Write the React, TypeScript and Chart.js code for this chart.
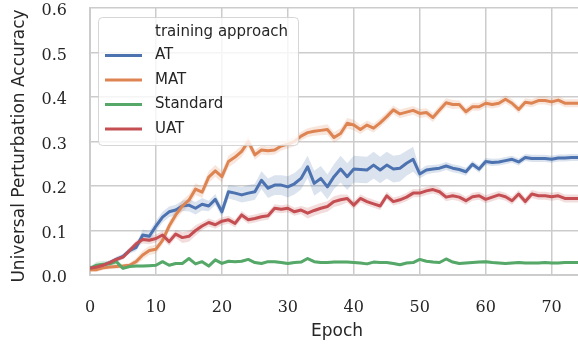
import { useEffect, useRef } from "react";
import { Chart, registerables } from "chart.js";
Chart.register(...registerables);

const epochs = [0,1,2,3,4,5,6,7,8,9,10,11,12,13,14,15,16,17,18,19,20,21,22,23,24,25,26,27,28,29,30,31,32,33,34,35,36,37,38,39,40,41,42,43,44,45,46,47,48,49,50,51,52,53,54,55,56,57,58,59,60,61,62,63,64,65,66,67,68,69,70,71,72,73,74];

const atValues = [0.015,0.018,0.022,0.028,0.035,0.042,0.055,0.062,0.090,0.087,0.110,0.130,0.142,0.146,0.155,0.157,0.150,0.159,0.155,0.170,0.142,0.187,0.184,0.180,0.184,0.187,0.213,0.195,0.202,0.202,0.198,0.205,0.217,0.243,0.206,0.217,0.198,0.221,0.238,0.221,0.238,0.237,0.236,0.247,0.236,0.247,0.238,0.240,0.251,0.260,0.227,0.236,0.238,0.240,0.245,0.240,0.237,0.232,0.249,0.238,0.255,0.253,0.254,0.257,0.260,0.254,0.264,0.262,0.262,0.262,0.260,0.263,0.263,0.264,0.264];
const atSpread = [0.005,0.005,0.005,0.005,0.006,0.006,0.007,0.008,0.012,0.012,0.012,0.012,0.012,0.012,0.012,0.014,0.014,0.014,0.012,0.012,0.012,0.015,0.016,0.017,0.018,0.018,0.020,0.022,0.022,0.022,0.024,0.024,0.025,0.025,0.028,0.028,0.028,0.028,0.030,0.030,0.030,0.030,0.030,0.030,0.030,0.030,0.030,0.030,0.028,0.028,0.010,0.010,0.009,0.009,0.009,0.009,0.009,0.009,0.008,0.008,0.008,0.008,0.008,0.008,0.008,0.008,0.008,0.008,0.008,0.008,0.008,0.008,0.008,0.008,0.008];

const matValues = [0.012,0.012,0.016,0.018,0.019,0.020,0.022,0.030,0.045,0.055,0.058,0.078,0.110,0.135,0.155,0.168,0.193,0.186,0.220,0.234,0.221,0.255,0.265,0.278,0.300,0.270,0.281,0.279,0.281,0.290,0.294,0.300,0.312,0.320,0.323,0.325,0.327,0.309,0.318,0.341,0.337,0.327,0.337,0.330,0.342,0.356,0.371,0.362,0.366,0.370,0.363,0.365,0.354,0.371,0.387,0.383,0.383,0.367,0.378,0.378,0.386,0.383,0.386,0.395,0.386,0.372,0.388,0.386,0.392,0.392,0.389,0.393,0.386,0.386,0.386];
const matSpread = [0.005,0.005,0.005,0.005,0.005,0.005,0.005,0.008,0.010,0.010,0.010,0.010,0.011,0.012,0.013,0.013,0.013,0.013,0.013,0.013,0.013,0.013,0.013,0.013,0.013,0.011,0.010,0.010,0.010,0.010,0.010,0.010,0.010,0.010,0.010,0.011,0.012,0.012,0.012,0.012,0.012,0.010,0.010,0.010,0.010,0.010,0.010,0.010,0.010,0.010,0.010,0.010,0.010,0.010,0.010,0.010,0.009,0.009,0.009,0.009,0.009,0.009,0.009,0.009,0.009,0.009,0.009,0.009,0.009,0.009,0.009,0.009,0.009,0.009,0.009];

const stdValues = [0.015,0.022,0.024,0.025,0.030,0.015,0.019,0.020,0.020,0.021,0.022,0.030,0.022,0.026,0.026,0.037,0.025,0.030,0.020,0.034,0.026,0.031,0.030,0.031,0.035,0.028,0.026,0.030,0.030,0.028,0.026,0.028,0.029,0.037,0.030,0.028,0.028,0.029,0.029,0.029,0.028,0.027,0.025,0.029,0.028,0.028,0.026,0.023,0.027,0.028,0.035,0.031,0.029,0.028,0.036,0.029,0.026,0.027,0.028,0.029,0.030,0.028,0.027,0.026,0.027,0.028,0.027,0.027,0.027,0.028,0.027,0.027,0.028,0.028,0.028];
const stdSpread = [0.004,0.008,0.008,0.007,0.005,0.003,0.003,0.003,0.003,0.003,0.003,0.003,0.003,0.003,0.003,0.003,0.003,0.003,0.003,0.003,0.003,0.003,0.003,0.003,0.003,0.003,0.003,0.003,0.003,0.003,0.003,0.003,0.003,0.003,0.003,0.003,0.003,0.003,0.003,0.003,0.003,0.003,0.003,0.003,0.003,0.003,0.003,0.003,0.003,0.003,0.003,0.003,0.003,0.003,0.003,0.003,0.003,0.003,0.003,0.003,0.003,0.003,0.003,0.003,0.003,0.003,0.003,0.003,0.003,0.003,0.003,0.003,0.003,0.003,0.003];

const uatValues = [0.015,0.018,0.022,0.028,0.035,0.040,0.055,0.070,0.080,0.078,0.082,0.090,0.075,0.092,0.084,0.087,0.100,0.110,0.118,0.113,0.121,0.124,0.116,0.135,0.124,0.127,0.131,0.133,0.150,0.148,0.150,0.142,0.146,0.139,0.145,0.150,0.154,0.165,0.169,0.172,0.157,0.172,0.165,0.160,0.155,0.178,0.165,0.169,0.175,0.184,0.184,0.189,0.192,0.187,0.175,0.178,0.175,0.167,0.176,0.178,0.170,0.175,0.180,0.176,0.167,0.182,0.165,0.182,0.178,0.178,0.176,0.178,0.172,0.172,0.172];
const uatSpread = [0.005,0.005,0.005,0.005,0.005,0.005,0.006,0.007,0.009,0.009,0.009,0.009,0.009,0.009,0.012,0.012,0.012,0.009,0.009,0.009,0.009,0.009,0.009,0.009,0.009,0.009,0.009,0.009,0.009,0.009,0.009,0.009,0.009,0.012,0.012,0.012,0.012,0.012,0.012,0.009,0.009,0.009,0.009,0.009,0.009,0.009,0.009,0.009,0.009,0.009,0.009,0.009,0.009,0.009,0.009,0.009,0.009,0.009,0.009,0.009,0.009,0.009,0.009,0.009,0.009,0.009,0.009,0.009,0.009,0.009,0.009,0.009,0.009,0.009,0.009];

const seriesNames = ["AT", "MAT", "Standard", "UAT"];
const seriesColors = ["#4c72b0", "#dd8452", "#55a868", "#c44e52"];
const seriesBands = ["rgba(76,114,176,0.2)", "rgba(221,132,82,0.2)", "rgba(85,168,104,0.2)", "rgba(196,78,82,0.2)"];
const legendTitle = "training approach";
const xTitle = "Epoch";
const yTitle = "Universal Perturbation Accuracy";
const xTicks = [0, 10, 20, 30, 40, 50, 60, 70];
const yTicks = [0, 0.1, 0.2, 0.3, 0.4, 0.5, 0.6];

const TEXT = "#262626";
const GRID = "#cccccc";

const overlayPlugin = {
  id: "seabornOverlay",
  afterDraw(chart: any) {
    const ctx = chart.ctx;
    ctx.save();
    // axis titles
    ctx.fillStyle = TEXT;
    ctx.font = "17px 'DejaVu Sans'";
    ctx.textAlign = "center";
    ctx.textBaseline = "middle";
    ctx.save();
    ctx.translate(20, 146);
    ctx.rotate(-Math.PI / 2);
    ctx.fillText(yTitle, 0, 0);
    ctx.restore();
    ctx.fillText(xTitle, (chart.chartArea.left + chart.chartArea.right) / 2 + 3, 332);

    // legend
    const x = 98.5, y = 17.5, w = 200, h = 128, r = 4;
    ctx.beginPath();
    ctx.moveTo(x + r, y);
    ctx.lineTo(x + w - r, y);
    ctx.arcTo(x + w, y, x + w, y + r, r);
    ctx.lineTo(x + w, y + h - r);
    ctx.arcTo(x + w, y + h, x + w - r, y + h, r);
    ctx.lineTo(x + r, y + h);
    ctx.arcTo(x, y + h, x, y + h - r, r);
    ctx.lineTo(x, y + r);
    ctx.arcTo(x, y, x + r, y, r);
    ctx.closePath();
    ctx.fillStyle = "rgba(255,255,255,0.8)";
    ctx.fill();
    ctx.strokeStyle = "rgba(204,204,204,0.8)";
    ctx.lineWidth = 1;
    ctx.stroke();
    ctx.font = "15px 'DejaVu Sans'";
    ctx.fillStyle = TEXT;
    ctx.textBaseline = "middle";
    ctx.textAlign = "left";
    ctx.fillText(legendTitle, 155, 32);
    const rowY = [55.5, 80, 104.5, 129];
    seriesNames.forEach((name, i) => {
      ctx.strokeStyle = seriesColors[i];
      ctx.lineWidth = 3;
      ctx.lineCap = "butt";
      ctx.beginPath();
      ctx.moveTo(105, rowY[i]);
      ctx.lineTo(142, rowY[i]);
      ctx.stroke();
      ctx.fillStyle = TEXT;
      ctx.fillText(name, 155, rowY[i]);
    });
    ctx.restore();
  },
};

export default function App() {
  const ref = useRef<HTMLCanvasElement>(null);
  useEffect(() => {
    const all = [atValues, matValues, stdValues, uatValues];
    const spreads = [atSpread, matSpread, stdSpread, uatSpread];
    const datasets: any[] = [];
    all.forEach((vals, s) => {
      datasets.push({
        label: seriesNames[s] + " upper",
        data: vals.map((v, i) => ({ x: epochs[i], y: v + spreads[s][i] })),
        borderWidth: 0,
        pointRadius: 0,
        fill: false,
        order: 10,
      });
      datasets.push({
        label: seriesNames[s] + " lower",
        data: vals.map((v, i) => ({ x: epochs[i], y: v - spreads[s][i] })),
        borderWidth: 0,
        pointRadius: 0,
        fill: "-1",
        backgroundColor: seriesBands[s],
        order: 10,
      });
    });
    all.forEach((vals, s) => {
      datasets.push({
        label: seriesNames[s],
        data: vals.map((v, i) => ({ x: epochs[i], y: v })),
        borderColor: seriesColors[s],
        borderWidth: 3,
        borderJoinStyle: "round",
        pointRadius: 0,
        fill: false,
        tension: 0,
        order: 4 - s,
      });
    });
    const chart = new Chart(ref.current as HTMLCanvasElement, {
      type: "line",
      data: { datasets },
      plugins: [overlayPlugin],
      options: {
        animation: false,
        responsive: false,
        devicePixelRatio: 1,
        layout: { padding: { top: 8, left: 0, right: 0, bottom: 0 } },
        plugins: { legend: { display: false }, tooltip: { enabled: false } },
        scales: {
          x: {
            type: "linear",
            min: 0,
            max: 74,
            afterBuildTicks: (ax: any) => {
              ax.ticks = xTicks.map((v) => ({ value: v }));
            },
            afterFit: (s: any) => {
              s.height = 70;
              s.paddingLeft = 0;
              s.paddingRight = 0;
            },
            ticks: { font: { family: "DejaVu Serif", size: 16 }, color: TEXT, padding: 23, maxRotation: 0 },
            grid: { color: GRID, lineWidth: 1.5, drawTicks: false },
            border: { color: GRID, width: 2 },
          },
          y: {
            type: "linear",
            min: 0,
            max: 0.6,
            afterBuildTicks: (ax: any) => {
              ax.ticks = yTicks.map((v) => ({ value: v }));
            },
            afterFit: (s: any) => {
              s.width = 90;
              s.paddingTop = 0;
              s.paddingBottom = 0;
            },
            ticks: {
              font: { family: "DejaVu Serif", size: 16 },
              color: TEXT,
              padding: 23,
              labelOffset: 3,
              callback: (v: any) => Number(v).toFixed(1),
            },
            grid: { color: GRID, lineWidth: 1.5, drawTicks: false },
            border: { color: GRID, width: 2 },
          },
        },
      },
    } as any);
    return () => chart.destroy();
  }, []);
  return (
    <div style={{ position: "absolute", left: 0, top: 0, width: 578, height: 345, background: "#ffffff", overflow: "hidden" }}>
      <canvas ref={ref} width={578} height={345} style={{ display: "block" }} />
    </div>
  );
}
